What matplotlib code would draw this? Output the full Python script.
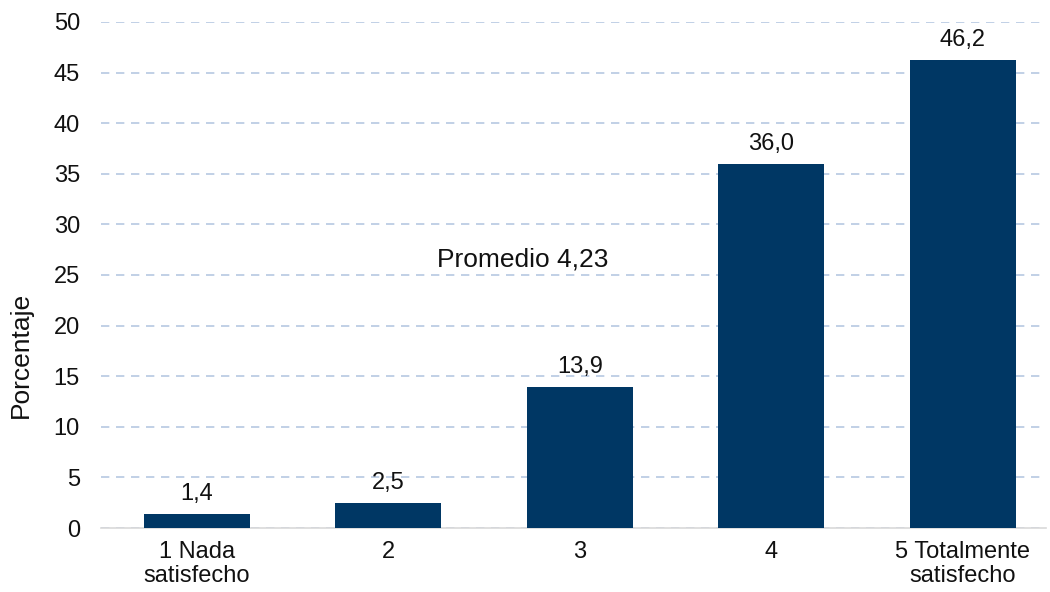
import matplotlib
matplotlib.use("Agg")
import matplotlib.pyplot as plt

categories = ["1 Nada\nsatisfecho", "2", "3", "4", "5 Totalmente\nsatisfecho"]
values = [1.4, 2.5, 13.9, 36.0, 46.2]
labels = ["1,4", "2,5", "13,9", "36,0", "46,2"]
yticks = [0, 5, 10, 15, 20, 25, 30, 35, 40, 45, 50]

plt.rcParams['font.family'] = ['Liberation Sans', 'DejaVu Sans']
FS = 17
FS_BIG = 19

fig = plt.figure(figsize=(10.5, 5.92), dpi=100)
ax = fig.add_axes([0.096, 0.108, 0.90, 0.855])

x = range(len(categories))
bars = ax.bar(x, values, width=0.553, color='#003764', zorder=3)
for xi, v, lab in zip(x, values, labels):
    ax.text(xi, v + 0.9, lab, ha='center', va='bottom', fontsize=FS, color='#111111')

ax.set_xlim(-0.501, 4.434)
ax.set_ylim(0, 50)
ax.set_yticks(yticks)
ax.set_yticklabels([str(t) for t in yticks], fontsize=FS, color='#111111')
ax.set_xticks(list(x))
ax.set_xticklabels(categories, fontsize=FS, linespacing=1.15, color='#111111')
ax.tick_params(axis='x', length=0, pad=9)
ax.tick_params(axis='y', length=0, pad=15)

ax.yaxis.grid(True, color='#b6c8e2', linestyle=(0, (5, 4)), linewidth=1.2, zorder=0)
for sp in ['top', 'right', 'left']:
    ax.spines[sp].set_visible(False)
ax.spines['bottom'].set_color('#d9d9d9')
ax.spines['bottom'].set_linewidth(1.2)

ax.set_ylabel("Porcentaje", fontsize=FS_BIG, color='#111111')
ax.yaxis.set_label_coords(-0.072, 0.342)
ax.text(1.703, 26.5, "Promedio 4,23", ha='center', va='center', fontsize=FS_BIG, color='#111111')

fig.savefig("out.png", dpi=100)
